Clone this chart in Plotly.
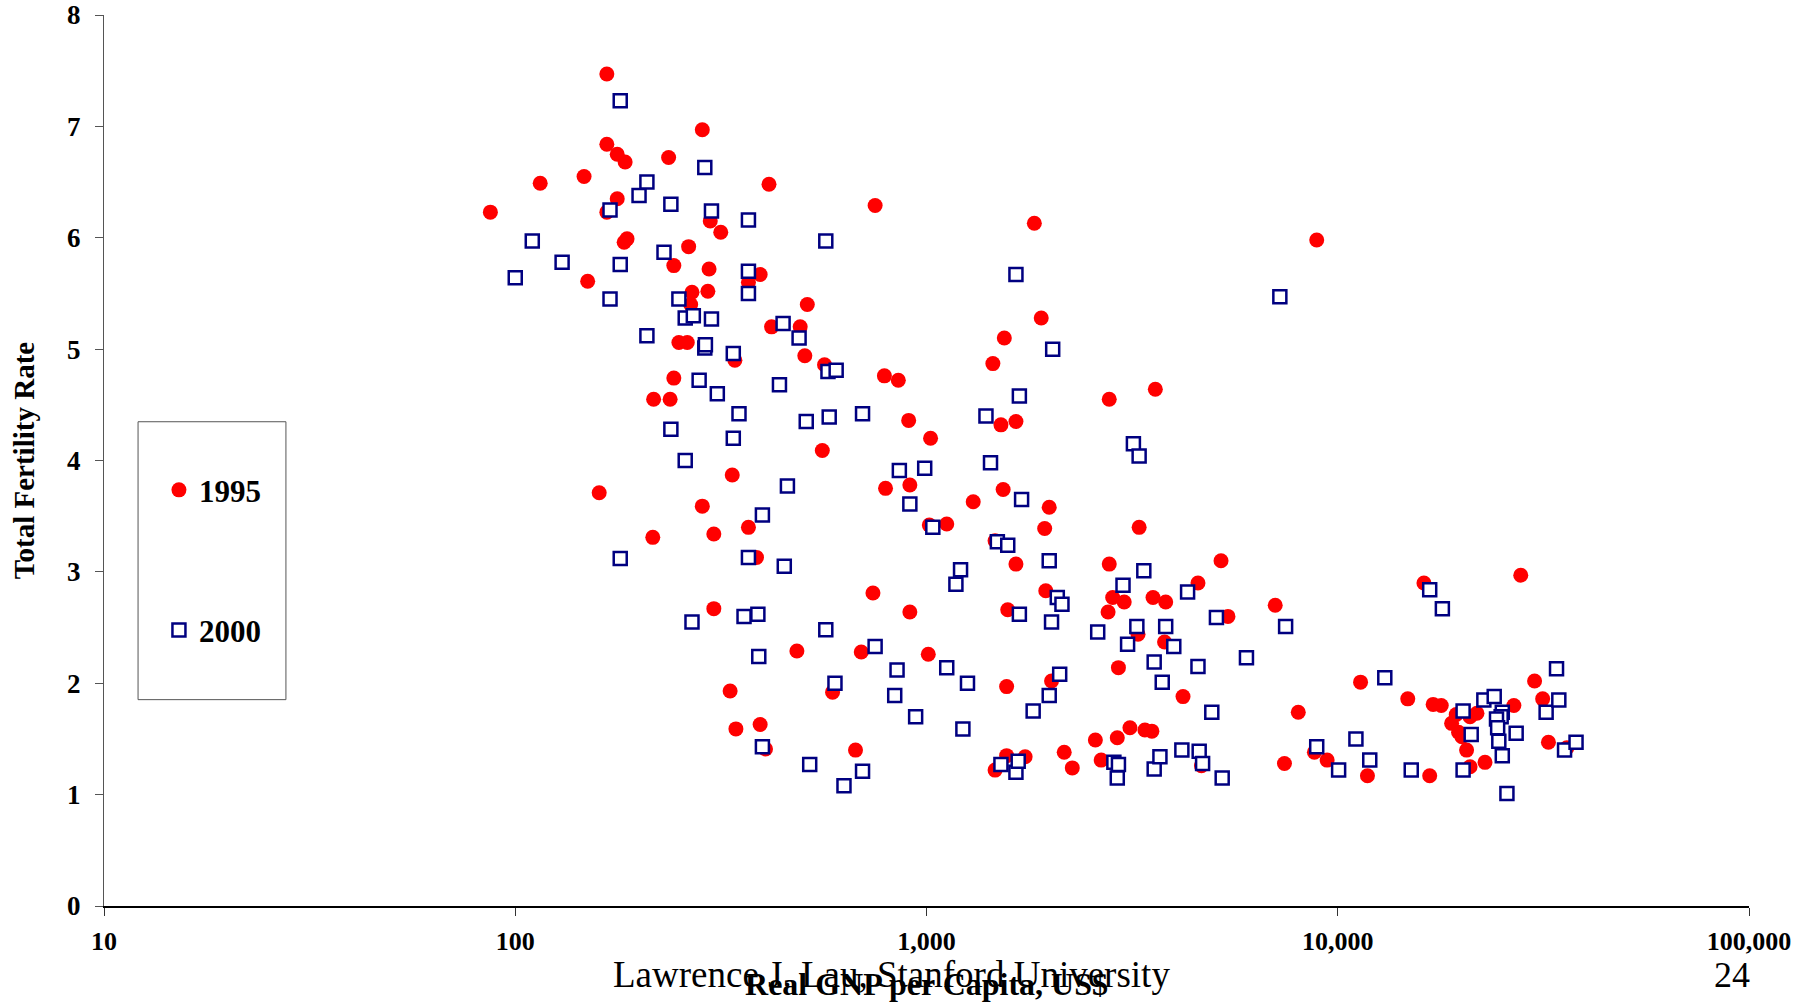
import plotly.graph_objects as go

# Total fertility rate vs. real GNP per capita (US$), by country
gnp_1995 = [87, 115, 147, 150, 160, 167, 167, 177, 185, 177,
            167, 184, 187, 216, 217, 236, 238, 243, 243, 250,
            262, 264, 269, 267, 285, 298, 316, 296, 294, 285,
            304, 304, 333, 344, 337, 342, 369, 394, 414, 420,
            493, 513, 506, 565, 558, 369, 386, 394, 406, 484,
            591, 672, 694, 741, 750, 790, 854, 795, 905, 911,
            911, 1023, 1016, 1120, 1010, 1299, 1450, 1546, 1517, 1650,
            1536, 1576, 1566, 1650, 1829, 1901, 1988, 1938, 1950, 2014,
            1468, 1468, 1566, 1737, 2162, 2262, 2574, 2659, 2782, 2782,
            2764, 2910, 2929, 2836, 3025, 3124, 3268, 3289, 3397, 3532,
            3601, 3555, 3816, 3792, 4205, 4572, 5202, 5408, 4662, 7046,
            8889, 7420, 8017, 8775, 9422, 11362, 11810, 14800, 16203, 16734,
            17060, 17850, 18917, 19413, 19665, 20045, 20573, 20974, 21800, 20974,
            22807, 26806, 27862, 30104, 31497, 32533, 36065]
tfr_1995 = [6.23, 6.49, 6.55, 5.61, 3.71, 7.47, 6.84, 6.75, 6.68, 6.35,
            6.23, 5.96, 5.99, 3.31, 4.55, 6.72, 4.55, 5.75, 4.74, 5.06,
            5.06, 5.92, 5.51, 5.40, 6.97, 6.15, 6.05, 5.72, 5.52, 3.59,
            3.34, 2.67, 1.93, 1.59, 3.87, 4.90, 5.60, 5.67, 6.48, 5.20,
            5.20, 5.40, 4.94, 4.86, 4.09, 3.40, 3.13, 1.63, 1.41, 2.29,
            1.92, 1.40, 2.28, 2.81, 6.29, 4.76, 4.72, 3.75, 4.36, 3.78,
            2.64, 4.20, 3.42, 3.43, 2.26, 3.63, 4.87, 5.10, 4.32, 4.35,
            3.74, 2.66, 1.97, 3.07, 6.13, 5.28, 3.58, 3.39, 2.83, 2.02,
            3.28, 1.22, 1.35, 1.34, 1.38, 1.24, 1.49, 1.31, 4.55, 3.07,
            2.64, 1.51, 2.14, 2.77, 2.73, 1.60, 2.44, 3.40, 1.58, 1.57,
            4.64, 2.77, 2.73, 2.37, 1.88, 2.90, 3.10, 2.60, 1.26, 2.70,
            5.98, 1.28, 1.74, 1.38, 1.31, 2.01, 1.17, 1.86, 2.90, 1.17,
            1.81, 1.80, 1.64, 1.72, 1.56, 1.52, 1.40, 1.25, 1.73, 1.70,
            1.29, 1.80, 2.97, 2.02, 1.86, 1.47, 1.42]

gnp_2000 = [100, 110, 130, 170, 170, 180, 180, 180, 200, 209,
            209, 230, 239, 239, 250, 259, 271, 259, 269, 280,
            289, 289, 290, 300, 300, 310, 339, 339, 350, 360,
            369, 369, 369, 369, 389, 391, 399, 399, 439, 448,
            451, 459, 490, 510, 520, 569, 569, 580, 576, 603,
            599, 630, 699, 699, 750, 848, 837, 859, 911, 941,
            990, 1036, 1120, 1179, 1210, 1226, 1258, 1395, 1431, 1487,
            1576, 1517, 1650, 1671, 1650, 1682, 1703, 1682, 1817, 1988,
            1988, 2014, 2027, 2080, 2135, 2108, 2608, 2855, 2929, 2910,
            3005, 3083, 3185, 3289, 3247, 3376, 3578, 3578, 3695, 3743,
            3816, 3993, 4178, 4314, 4572, 4603, 4692, 4940, 5070, 5236,
            5998, 7231, 7468, 8889, 10049, 11071, 11963, 13013, 15090, 16734,
            17964, 20175, 20175, 21110, 22660, 24013, 25125, 24964, 24323, 24480,
            24640, 25125, 25786, 27153, 32115, 34040, 34480, 35604, 37970]
tfr_2000 = [5.64, 5.97, 5.78, 6.25, 5.45, 7.23, 5.76, 3.12, 6.38, 6.50,
            5.12, 5.87, 6.30, 4.28, 5.45, 5.28, 5.30, 4.00, 2.55, 4.72,
            6.63, 5.01, 5.04, 6.24, 5.27, 4.60, 4.96, 4.20, 4.42, 2.60,
            6.16, 5.70, 5.50, 3.13, 2.62, 2.24, 3.51, 1.43, 4.68, 5.23,
            3.05, 3.77, 5.10, 4.35, 1.27, 5.97, 2.48, 4.39, 4.80, 4.81,
            2.00, 1.08, 4.42, 1.21, 2.33, 2.12, 1.89, 3.91, 3.61, 1.70,
            3.93, 3.40, 2.14, 2.89, 3.02, 1.59, 2.00, 4.40, 3.98, 3.27,
            3.24, 1.27, 1.20, 1.30, 5.67, 4.58, 3.65, 2.62, 1.75, 3.10,
            1.89, 2.55, 5.00, 2.77, 2.71, 2.08, 2.46, 1.29, 1.27, 1.15,
            2.88, 2.35, 4.15, 4.04, 2.51, 3.01, 2.19, 1.23, 1.34, 2.01,
            2.51, 2.33, 1.40, 2.82, 2.15, 1.39, 1.28, 1.74, 2.59, 1.15,
            2.23, 5.47, 2.51, 1.43, 1.22, 1.50, 1.31, 2.05, 1.22, 2.84,
            2.67, 1.75, 1.22, 1.54, 1.85, 1.88, 1.74, 1.70, 1.68, 1.60,
            1.48, 1.35, 1.01, 1.55, 1.74, 2.13, 1.85, 1.40, 1.47]

x_tickvals = [10, 100, 1000, 10000, 100000]
x_ticktext = ["10", "100", "1,000", "10,000", "100,000"]
y_tickvals = [0, 1, 2, 3, 4, 5, 6, 7, 8]

SERIF = "Liberation Serif, Times New Roman, serif"

fig = go.Figure()
fig.add_trace(go.Scatter(
    x=gnp_1995, y=tfr_1995, mode="markers", name="1995", legendgroup="a",
    marker=dict(symbol="circle", size=15, color="#ff0000",
                line=dict(width=0)),
))
fig.add_trace(go.Scatter(
    x=gnp_2000, y=tfr_2000, mode="markers", name="2000", legendgroup="b",
    marker=dict(symbol="square", size=13, color="white",
                line=dict(width=2.5, color="#000080")),
))

fig.update_layout(
    width=1808, height=1002,
    margin=dict(l=104, r=59, t=15, b=96, autoexpand=False),
    paper_bgcolor="white", plot_bgcolor="white",
    font=dict(family=SERIF, color="black"),
    showlegend=True,
    legend=dict(
        x=0.0334, y=0.497, xanchor="left", yanchor="top",
        bgcolor="rgba(0,0,0,0)", borderwidth=0,
        font=dict(family=SERIF, size=31, weight="bold", color="black"),
        tracegroupgap=97, traceorder="grouped",
    ),
    xaxis=dict(
        type="log", range=[1, 5], automargin=False,
        tickmode="array", tickvals=x_tickvals, ticktext=x_ticktext,
        ticks="outside", ticklen=8, tickcolor="#333", tickwidth=1,
        showline=True, linecolor="black", linewidth=1.5,
        showgrid=False, zeroline=False,
        tickfont=dict(family=SERIF, size=26, weight="bold"),
        ticklabelstandoff=3,
        title=dict(text="Real GNP per Capita, US$", standoff=40,
                   font=dict(family=SERIF, size=32, weight="bold")),
    ),
    yaxis=dict(
        range=[0, 8], tickmode="array", tickvals=y_tickvals, automargin=False,
        ticks="outside", ticklen=8, tickcolor="#555", tickwidth=1,
        showline=True, linecolor="#555", linewidth=1,
        showgrid=False, zeroline=False,
        tickfont=dict(family=SERIF, size=27, weight="bold"),
        ticklabelstandoff=9,
        title=dict(text="Total Fertility Rate", standoff=23,
                   font=dict(family=SERIF, size=29, weight="bold")),
    ),
)

# Legend frame
fig.add_shape(type="rect", xref="paper", yref="paper",
              x0=0.0207, x1=0.1106, y0=0.2316, y1=0.5435,
              line=dict(color="#555", width=1), fillcolor="rgba(0,0,0,0)",
              layer="below")

# Slide footer
fig.add_annotation(text="Lawrence J. Lau, Stanford University",
                   xref="paper", yref="paper", x=0.479, y=-0.077,
                   xanchor="center", yanchor="middle", showarrow=False,
                   font=dict(family=SERIF, size=37, color="black"))
fig.add_annotation(text="24", xref="paper", yref="paper", x=1.002, y=-0.077,
                   xanchor="right", yanchor="middle", showarrow=False,
                   font=dict(family=SERIF, size=36, color="black"))

fig.write_html("out.html")
